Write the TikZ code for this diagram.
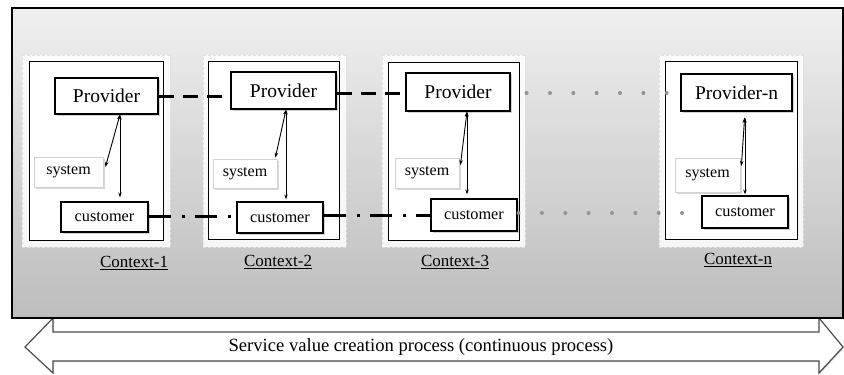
\documentclass[tikz,border=0pt]{standalone}
\usepackage{fontspec}
\setmainfont{Liberation Serif}
\usetikzlibrary{shadows,arrows.meta,calc}
\begin{document}
\begin{tikzpicture}[x=1pt,y=-1pt,
  outerbox/.style={draw=gray!25, dashed, dash pattern=on 3pt off 2pt, line width=1pt, fill=white, fill opacity=0.85, inner sep=0pt},
  innerbox/.style={draw=black, line width=1pt, fill=white, inner sep=0pt},
  provbox/.style={draw=black, line width=1.2pt, fill=white, inner sep=0pt, font=\fontsize{19.5}{22}\selectfont,
    drop shadow={shadow xshift=1.5pt, shadow yshift=-1.5pt, opacity=0.35}},
  custbox/.style={draw=black, line width=1.2pt, fill=white, inner sep=0pt, font=\fontsize{16.3}{18}\selectfont,
    drop shadow={shadow xshift=1.5pt, shadow yshift=-1.5pt, opacity=0.35}},
  sysbox/.style={draw=gray!35, line width=0.8pt, fill=white, inner sep=0pt, font=\fontsize{16}{18}\selectfont,
    drop shadow={shadow xshift=1.5pt, shadow yshift=-1.5pt, opacity=0.3}},
  ctxlabel/.style={font=\fontsize{17}{19}\selectfont, inner sep=0pt},
  biarrow/.style={{Stealth[length=5pt,width=3.5pt]}-{Stealth[length=5pt,width=3.5pt]}, line width=0.9pt},
  provline/.style={line width=3pt, dash pattern=on 15pt off 9pt},
  custline/.style={line width=3pt, dash pattern=on 22pt off 11pt on 3pt off 10pt},
  greydots/.style={draw=gray!85, line width=4pt, line cap=round, dash pattern=on 0pt off 23.35pt}
]
\useasboundingbox (0,0) rectangle (844,375);

% process arrow
\draw[fill=white, draw=gray!60!black, line width=1.2pt,
      drop shadow={shadow xshift=1pt, shadow yshift=-1pt, opacity=0.3}]
  (25,347) -- (53,318) -- (53,332) -- (819,332) -- (819,318) -- (843,347)
  -- (819,373) -- (819,361) -- (53,361) -- (53,373) -- cycle;
\node[font=\fontsize{18.6}{21}\selectfont, inner sep=0pt] (proc) at (421,347)
  {Service value creation process (continuous process)};

% background panel
\draw[line width=1.2pt, top color=gray!12, bottom color=gray!52] (12,8) rectangle (843,318);

% context frames
\node[outerbox, minimum width=148pt, minimum height=192pt] (O1) at (96,151) {};
\node[innerbox, minimum width=134pt, minimum height=179pt] (I1) at (96,150.5) {};
\node[outerbox, minimum width=143pt, minimum height=192pt] (O2) at (274.5,151) {};
\node[innerbox, minimum width=131pt, minimum height=178pt] (I2) at (273.5,150) {};
\node[outerbox, minimum width=143pt, minimum height=192pt] (O3) at (453.5,151) {};
\node[innerbox, minimum width=131pt, minimum height=178pt] (I3) at (453.5,151) {};
\node[outerbox, minimum width=144pt, minimum height=192pt] (On) at (731,151) {};
\node[innerbox, minimum width=132pt, minimum height=178pt] (In) at (731,150) {};

% context 1
\node[provbox, minimum width=103pt, minimum height=36pt] (P1) at (106.5,96) {Provider};
\node[sysbox, minimum width=69pt, minimum height=30pt] (S1) at (68.5,172) {system};
\node[custbox, minimum width=87pt, minimum height=30pt] (C1) at (104.5,217) {customer};
\node[ctxlabel] (L1) at (134,263) {\underline{Context-1}};
% context 2
\node[provbox, minimum width=105pt, minimum height=37pt] (P2) at (283.5,90.5) {Provider};
\node[sysbox, minimum width=64pt, minimum height=29pt] (S2) at (245,173.5) {system};
\node[custbox, minimum width=86pt, minimum height=31pt] (C2) at (280,217.5) {customer};
\node[ctxlabel] (L2) at (278,262) {\underline{Context-2}};
% context 3
\node[provbox, minimum width=104pt, minimum height=38pt] (P3) at (458,92) {Provider};
\node[sysbox, minimum width=64pt, minimum height=30pt] (S3) at (427,173) {system};
\node[custbox, minimum width=86pt, minimum height=32pt] (C3) at (474,215) {customer};
\node[ctxlabel] (L3) at (455,262) {\underline{Context-3}};
% context n
\node[provbox, minimum width=111pt, minimum height=37pt] (Pn) at (736.5,92.5) {Provider-n};
\node[sysbox, minimum width=65pt, minimum height=34pt] (Sn) at (707.5,175) {system};
\node[custbox, minimum width=86pt, minimum height=32pt] (Cn) at (745,212) {customer};
\node[ctxlabel] (Ln) at (738,260) {\underline{Context-n}};

% inner arrows
\draw[biarrow, shorten >=4pt] ([xshift=13.5pt]P1.south) -- ([xshift=15.5pt]C1.north);
\draw[biarrow] ([xshift=13.5pt]P1.south) -- ([shift={(2,-5)}]S1.east);
\draw[biarrow, shorten >=2pt] ([xshift=2.5pt]P2.south) -- ([xshift=6pt]C2.north);
\draw[biarrow] ([xshift=2.5pt]P2.south) -- ([shift={(-2,-1)}]S2.north east);
\draw[biarrow, shorten >=4pt] ([xshift=9pt]P3.south) -- ([xshift=-7pt]C3.north);
\draw[biarrow] ([xshift=9pt]P3.south) -- ([shift={(1,-8)}]S3.east);
\draw[biarrow, shorten <=6pt, shorten >=1pt] ([xshift=8.5pt]Pn.south) -- (Cn.north);
\draw[biarrow, shorten <=6pt] ([xshift=8.5pt]Pn.south) -- ([shift={(1,-9)}]Sn.east);

% connectors between contexts
\draw[provline] (P1.east) -- (P1.east -| P2.west);
\draw[provline] ([yshift=-2.5pt]P2.east) -- ([yshift=-2.5pt]P2.east -| P3.west);
\draw[greydots, dash phase=7.35pt] ([yshift=-1pt]P3.east) -- ([yshift=-1pt]P3.east -| Pn.west);
\draw[custline] ([yshift=1pt]C1.east) -- ([yshift=1pt]C1.east -| C2.west);
\draw[custline] ([yshift=2pt]C2.east) -- ([yshift=2pt]C2.east -| C3.west);
\draw[greydots, dash phase=22.4pt] ([yshift=2pt]C3.east) -- ([yshift=2pt]C3.east -| Cn.west);
\end{tikzpicture}
\end{document}
